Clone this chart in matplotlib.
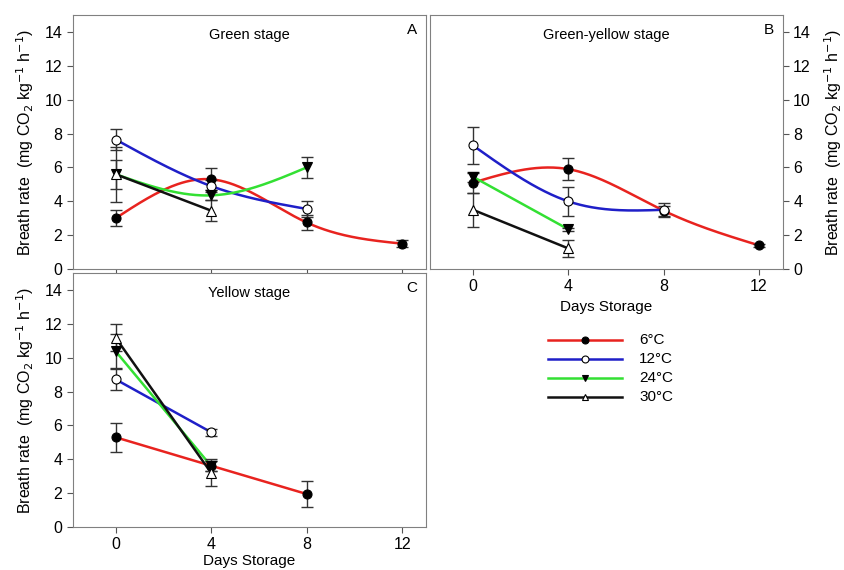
import numpy as np
import matplotlib.pyplot as plt

plt.rcParams['font.family'] = ['Liberation Sans', 'DejaVu Sans']
plt.rcParams['font.size'] = 10.5

temps = ['6°C', '12°C', '24°C', '30°C']
colors = ['#e8231f', '#1f1fc8', '#33e033', '#111111']
markers = ['o', 'o', 'v', '^']
faces = ['black', 'white', 'black', 'white']

# panel A: green stage
a_x = [[0, 4, 8, 12], [0, 4, 8], [0, 4, 8], [0, 4]]
a_y = [[3.0, 5.3, 2.75, 1.5], [7.65, 4.9, 3.55], [5.6, 4.35, 6.0], [5.6, 3.45]]
a_e = [[0.47, 0.65, 0.47, 0.2], [0.6, 0.35, 0.45], [0.85, 0.3, 0.6], [1.63, 0.6]]
a_smooth = [True, True, True, False]

# panel B: green-yellow stage
b_x = [[0, 4, 8, 12], [0, 4, 8], [0, 4], [0, 4]]
b_y = [[5.1, 5.9, 3.45, 1.4], [7.3, 4.0, 3.5], [5.45, 2.35], [3.5, 1.22]]
b_e = [[0.6, 0.67, 0.3, 0.1], [1.1, 0.85, 0.4], [0.3, 0.1], [1.0, 0.48]]
b_smooth = [True, True, False, False]

# panel C: yellow stage
c_x = [[0, 4, 8], [0, 4], [0, 4], [0, 4]]
c_y = [[5.3, 3.62, 1.95], [8.72, 5.6], [10.38, 3.6], [11.18, 3.2]]
c_e = [[0.85, 0.3, 0.75], [0.6, 0.2], [1.0, 0.3], [0.8, 0.8]]
c_smooth = [False, False, False, False]

xticks = [0, 4, 8, 12]
yticks = [0, 2, 4, 6, 8, 10, 12, 14]
ylab = 'Breath rate  (mg CO$_2$ kg$^{-1}$ h$^{-1}$)'


def spline(x, y, n=200):
    # natural cubic spline through the points, just for drawing the curve
    x = np.asarray(x, float)
    y = np.asarray(y, float)
    k = len(x)
    h = np.diff(x)
    A = np.zeros((k, k))
    r = np.zeros(k)
    A[0, 0] = A[-1, -1] = 1
    for i in range(1, k - 1):
        A[i, i - 1] = h[i - 1]
        A[i, i] = 2 * (h[i - 1] + h[i])
        A[i, i + 1] = h[i]
        r[i] = 6 * ((y[i + 1] - y[i]) / h[i] - (y[i] - y[i - 1]) / h[i - 1])
    M = np.linalg.solve(A, r)
    xs = np.linspace(x[0], x[-1], n)
    ys = np.empty_like(xs)
    for j, t in enumerate(xs):
        i = min(np.searchsorted(x, t, side='right') - 1, k - 2)
        a = x[i + 1] - t
        b = t - x[i]
        ys[j] = (M[i] * a**3 + M[i + 1] * b**3) / (6 * h[i]) \
            + (y[i] / h[i] - M[i] * h[i] / 6) * a \
            + (y[i + 1] / h[i] - M[i + 1] * h[i] / 6) * b
    return xs, ys


def panel(ax, xs, ys, es, smooth, title, letter):
    for i in range(4):
        if smooth[i]:
            sx, sy = spline(xs[i], ys[i])
        else:
            sx, sy = xs[i], ys[i]
        ax.plot(sx, sy, color=colors[i], lw=1.8, zorder=2)
        ax.errorbar(xs[i], ys[i], yerr=es[i], fmt='none', ecolor='#333333',
                    elinewidth=1, capsize=4, capthick=1, zorder=3)
        ax.plot(xs[i], ys[i], ls='none', marker=markers[i], ms=6.5,
                mfc=faces[i], mec='black', mew=0.8, zorder=4)
    ax.set_xlim(-1.8, 13.0)
    ax.set_ylim(0, 15)
    ax.set_xticks(xticks)
    ax.set_yticks(yticks)
    ax.tick_params(direction='out', length=4, color='#555555', labelsize=11.5)
    for s in ax.spines.values():
        s.set_color('#808080')
    ax.text(0.5, 0.92, title, transform=ax.transAxes, ha='center', va='center')
    ax.text(0.96, 0.94, letter, transform=ax.transAxes, ha='center', va='center',
            fontsize=11)


fig = plt.figure(figsize=(8.44, 5.7), dpi=100)
axA = fig.add_axes([0.0861, 0.528, 0.4186, 0.4456])
axB = fig.add_axes([0.5095, 0.528, 0.4179, 0.4456])
axC = fig.add_axes([0.0861, 0.0754, 0.4186, 0.4456])

panel(axA, a_x, a_y, a_e, a_smooth, 'Green stage', 'A')
panel(axB, b_x, b_y, b_e, b_smooth, 'Green-yellow stage', 'B')
panel(axC, c_x, c_y, c_e, c_smooth, 'Yellow stage', 'C')

axA.set_xticklabels([])
axA.set_ylabel(ylab, fontsize=11.5, labelpad=6)
axB.yaxis.tick_right()
axB.yaxis.set_label_position('right')
axB.set_ylabel(ylab, fontsize=11.5, labelpad=8)
axB.set_xlabel('Days Storage', fontsize=11)
axC.set_ylabel(ylab, fontsize=11.5, labelpad=6)
axC.set_xlabel('Days Storage', fontsize=11, labelpad=1)

# legend drawn by hand (pixel-like coordinates inside its own axes)
axL = fig.add_axes([540 / 844, 1 - 410 / 570, 160 / 844, 80 / 570])
axL.set_xlim(540, 700)
axL.set_ylim(410, 330)
axL.axis('off')
for i, t in enumerate(temps):
    yy = 340 + 19 * i
    axL.plot([548, 585, 622], [yy] * 3, color=colors[i], lw=1.8,
             marker=markers[i], markevery=[1], ms=5, mfc=faces[i],
             mec='black', mew=0.8)
    axL.text(639, yy, t, ha='left', va='center', fontsize=11)

fig.savefig('out.png', dpi=100)
